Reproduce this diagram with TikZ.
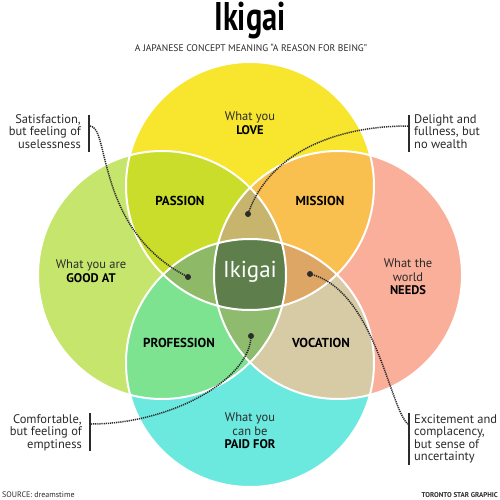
\documentclass[tikz,border=0pt]{standalone}
\usepackage{fontspec}
\setmainfont{PT Sans}
\usepackage{graphicx}

\definecolor{ink}{HTML}{2B2B2B}
\definecolor{love}{HTML}{F8E52D}
\definecolor{goodat}{HTML}{C6E56C}
\definecolor{needs}{HTML}{F9AF99}
\definecolor{paidfor}{HTML}{6CE9DF}
\definecolor{passion}{HTML}{CADD2B}
\definecolor{mission}{HTML}{FAC04F}
\definecolor{profession}{HTML}{7DE391}
\definecolor{vocation}{HTML}{D7CBA6}
\definecolor{lovegoodneeds}{HTML}{C7B56D}
\definecolor{lovegoodpaid}{HTML}{8EB967}
\definecolor{loveneedspaid}{HTML}{DEA664}
\definecolor{goodneedspaid}{HTML}{8EBB6D}
\definecolor{centre}{HTML}{5E7F4B}

\def\rad{124}

\begin{document}
\begin{tikzpicture}[x=1pt,y=-1pt,
  circletext/.style={align=center,text=ink,inner sep=0pt,
    font=\fontsize{12.5}{13.5}\selectfont},
  zonetext/.style={inner sep=0pt,text=black,
    font=\bfseries\fontsize{13}{14}\selectfont},
  notetext/.style={inner sep=0pt,text=ink,
    font=\fontsize{12.5}{12.5}\selectfont},
  notebar/.style={line width=2.5pt,draw=ink},
  trail/.style={line width=1.5pt,draw=ink,dash pattern=on 1.2pt off 0.9pt},
  spot/.style={circle,fill=ink,inner sep=0pt,minimum size=6pt}]
  \useasboundingbox[fill=white] (0,0) rectangle (500,500);

  \coordinate (T) at (250,186);
  \coordinate (L) at (162,275);
  \coordinate (R) at (338,275);
  \coordinate (B) at (250,363);

  % single circles
  \fill[love]    (T) circle [radius=\rad];
  \fill[goodat]  (L) circle [radius=\rad];
  \fill[needs]   (R) circle [radius=\rad];
  \fill[paidfor] (B) circle [radius=\rad];

  % pairs
  \begin{scope}
    \clip (T) circle [radius=\rad];
    \fill[passion] (L) circle [radius=\rad];
    \fill[mission] (R) circle [radius=\rad];
  \end{scope}
  \begin{scope}
    \clip (B) circle [radius=\rad];
    \fill[profession] (L) circle [radius=\rad];
    \fill[vocation]   (R) circle [radius=\rad];
  \end{scope}

  % triples and the middle
  \begin{scope}
    \clip (T) circle [radius=\rad];
    \begin{scope}
      \clip (L) circle [radius=\rad];
      \fill[lovegoodneeds] (R) circle [radius=\rad];
      \fill[lovegoodpaid]  (B) circle [radius=\rad];
      \clip (R) circle [radius=\rad];
      \fill[centre] (B) circle [radius=\rad];
    \end{scope}
    \clip (R) circle [radius=\rad];
    \begin{scope}
      \clip (B) circle [radius=\rad];
      \fill[loveneedspaid] (L) ++(-200,-200) rectangle ++(400,400);
      \clip (L) circle [radius=\rad];
      \fill[centre] (L) ++(-200,-200) rectangle ++(400,400);
    \end{scope}
  \end{scope}
  \begin{scope}
    \clip (B) circle [radius=\rad];
    \clip (L) circle [radius=\rad];
    \clip (R) circle [radius=\rad];
    \fill[goodneedspaid] (B) ++(-200,-200) rectangle ++(400,400);
    \clip (T) circle [radius=\rad];
    \fill[centre] (B) ++(-200,-200) rectangle ++(400,400);
  \end{scope}

  \foreach \c in {T,L,R,B}
    \draw[white,line width=2pt] (\c) circle [radius=\rad];

  % titles
  \node (title) at (250,21)
    {\scalebox{0.76}[1]{\bfseries\fontsize{40}{40}\selectfont Ikigai}};
  \node[text=ink,font=\fontsize{9.6}{11}\selectfont] (subtitle) at (251,48)
    {A JAPANESE CONCEPT MEANING ``A REASON FOR BEING''};

  % circle labels
  \node[circletext] (love)  at (250,123) {What you\\\textbf{\color{black}LOVE}};
  \node[circletext] (good)  at (91,271)  {What you are\\\textbf{\color{black}GOOD AT}};
  \node[circletext] (needs) at (408,277) {What the\\world\\\textbf{\color{black}NEEDS}};
  \node[circletext] (paid)  at (250,431) {What you\\can be\\\textbf{\color{black}PAID FOR}};

  \node[zonetext] (passion)    at (180,201) {PASSION};
  \node[zonetext] (mission)    at (320,201) {MISSION};
  \node[zonetext] (profession) at (179,343) {PROFESSION};
  \node[zonetext] (vocation)   at (321,343) {VOCATION};
  \node[text=white,inner sep=0pt,font=\fontsize{23}{23}\selectfont] (ikigai)
    at (250,272) {Ikigai};

  % notes
  \node[notetext,align=right,anchor=north east] (satisfaction) at (81,114)
    {Satisfaction,\\but feeling of\\uselessness};
  \node[notetext,align=left,anchor=north west] (delight) at (414,114)
    {Delight and\\fullness, but\\no wealth};
  \node[notetext,align=right,anchor=north east] (comfortable) at (82,414)
    {Comfortable,\\but feeling of\\emptiness};
  \node[notetext,align=left,anchor=north west] (excitement) at (414,414)
    {Excitement and\\complacency,\\but sense of\\uncertainty};

  \draw[notebar] (89,115) -- (89,152);
  \draw[notebar] (409,115) -- (409,152);
  \draw[notebar] (90,413) -- (90,451);
  \draw[notebar] (409,413) -- (409,465);

  \coordinate (c1) at (90,126);
  \coordinate (c2) at (408,126);
  \coordinate (c3) at (91,424);
  \coordinate (c4) at (408,424);

  \node[spot] (d1) at (188,277) {};
  \node[spot] (d2) at (248,214) {};
  \node[spot] (d3) at (251,336) {};
  \node[spot] (d4) at (310,274) {};

  \draw[trail] (c1) .. controls (110,126) and (95,230) .. (d1.center);
  \draw[trail] (c2) .. controls (340,126) and (270,150) .. (d2.center);
  \draw[trail] (c3) .. controls (170,424) and (250,380) .. (d3.center);
  \draw[trail] (d4.center) .. controls (375,290) and (390,410) .. (c4);

  % footer
  \node[anchor=base west,inner sep=0pt,text=ink,font=\fontsize{8}{8}\selectfont]
    (source) at (2,497) {SOURCE: dreamstime};
  \node[anchor=base east,inner sep=0pt,text=ink,font=\bfseries\fontsize{7}{7}\selectfont]
    (credit) at (498,497) {TORONTO STAR GRAPHIC};
\end{tikzpicture}
\end{document}
